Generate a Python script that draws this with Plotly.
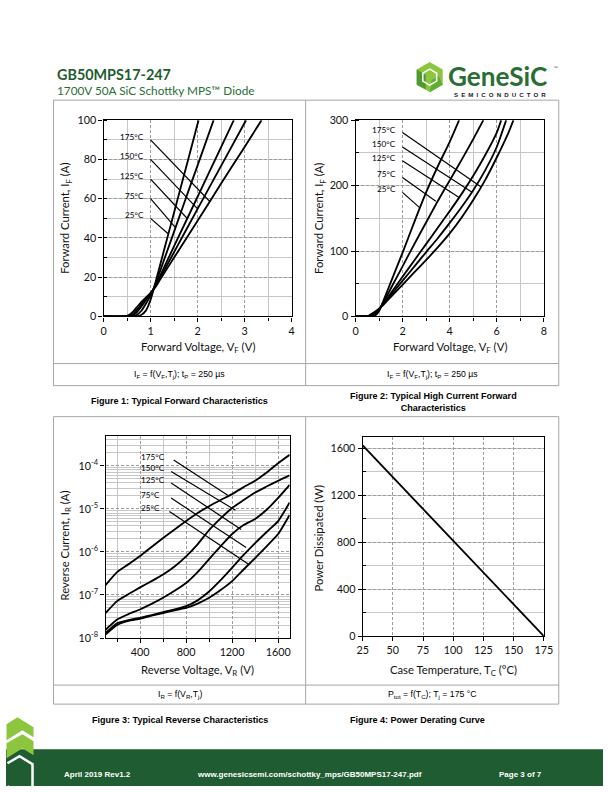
import math
import plotly.graph_objects as go

W, H = 612, 792
# measured picture transform of this page (picture = A * page + B); positions below
# are given in picture pixels and mapped back to page pixels
AX_, BX_ = 0.975, 6.5
AY_, BY_ = 0.982, 0.0
FS = 1.0 / AX_

# ---------------- data ----------------
temps = ["25°C", "75°C", "125°C", "150°C", "175°C"]

f1_v_25 = [0, 0.6, 0.7, 0.8, 0.9, 1.0, 1.1, 1.2, 1.4, 1.6, 1.8, 2.02]
f1_i_25 = [0, 0, 0.1, 0.8, 3.0, 8.5, 17, 26, 44, 62, 80, 100]
f1_v_75 = [0, 0.5, 0.6, 0.7, 0.8, 0.9, 1.0, 1.1, 1.2, 1.4, 1.6, 1.8, 2.0, 2.34]
f1_i_75 = [0, 0, 0.1, 0.7, 2.8, 6.5, 10.8, 16.4, 23, 36.5, 50, 63.6, 77, 100]
f1_v_125 = [0, 0.5, 0.6, 0.7, 0.8, 0.9, 1.0, 1.1, 1.2, 1.5, 2.0, 2.5, 2.77]
f1_i_125 = [0, 0, 0.4, 2.0, 5.0, 8.3, 11.5, 15.6, 20.6, 35.8, 61, 86.3, 100]
f1_v_150 = [0, 0.45, 0.55, 0.65, 0.75, 0.85, 1.0, 1.1, 1.2, 1.5, 2.0, 2.5, 3.03]
f1_i_150 = [0, 0, 0.3, 1.8, 4.5, 7.7, 11.8, 15.2, 19.6, 32.8, 54.8, 76.7, 100]
f1_v_175 = [0, 0.4, 0.5, 0.6, 0.7, 0.8, 0.9, 1.0, 1.1, 1.2, 1.5, 2.0, 2.5, 3.0, 3.36]
f1_i_175 = [0, 0, 0.3, 1.8, 4.5, 7.3, 9.6, 12.0, 14.9, 18.7, 30, 48.8, 67.7, 86.4, 100]
f1_lead_v0 = [1.0, 1.0, 1.0, 1.0, 1.0]
f1_lead_i0 = [50, 60, 70, 80, 90]
f1_lead_v1 = [1.38, 1.53, 1.78, 2.0, 2.26]
f1_lead_i1 = [42, 45.3, 49.9, 54.8, 58.6]

f2_v_25 = [0, 0.6, 0.8, 1.0, 1.2, 1.5, 2.0, 2.5, 3.0, 3.5, 4.0, 4.4]
f2_i_25 = [0, 0, 0.8, 8.5, 26, 53, 98, 145, 190, 230, 267, 300]
f2_v_75 = [0, 0.5, 0.7, 0.9, 1.0, 1.2, 1.6, 2.0, 2.5, 3.0, 3.5, 4.0, 4.5, 5.0, 5.43]
f2_i_75 = [0, 0, 0.7, 6.5, 10.8, 23, 50, 77, 111, 144, 177, 208, 239, 271, 300]
f2_v_125 = [0, 0.5, 0.6, 0.8, 1.0, 1.2, 1.5, 2.0, 2.5, 3.0, 3.5, 4.0, 4.5, 5.0, 5.5, 6.0, 6.19]
f2_i_125 = [0, 0, 0.4, 5, 11.5, 20.6, 35.8, 61, 86, 111, 136, 161, 187, 215, 246, 281, 300]
f2_v_150 = [0, 0.45, 0.55, 0.75, 1.0, 1.2, 1.5, 2.0, 2.5, 3.0, 3.5, 4.0, 4.5, 5.0, 5.5, 6.0, 6.4]
f2_i_150 = [0, 0, 0.3, 4.5, 11.8, 19.6, 32.8, 54.8, 76.7, 98.5, 120, 143, 167, 193, 223, 259, 300]
f2_v_175 = [0, 0.4, 0.5, 0.7, 1.0, 1.2, 1.5, 2.0, 2.5, 3.0, 3.5, 4.0, 4.5, 5.0, 5.5, 6.0, 6.5, 6.71]
f2_i_175 = [0, 0, 0.3, 4.5, 12, 18.7, 30, 48.8, 67.7, 86.4, 106, 127, 151, 178, 208, 243, 281, 300]
f2_lead_v0 = [1.99, 1.99, 1.99, 1.99, 1.99]
f2_lead_i0 = [189.6, 212.5, 238, 259, 281]
f2_lead_v1 = [2.73, 3.41, 4.40, 4.95, 5.34]
f2_lead_i1 = [166, 176, 182, 190, 198]

f3_vr = [100, 200, 300, 400, 500, 600, 700, 800, 900, 1000, 1100, 1200, 1300, 1400, 1500, 1600, 1700]
f3_ir_25 = [1.2e-8, 2.0e-8, 2.5e-8, 2.8e-8, 3.3e-8, 3.8e-8, 4.4e-8, 5.0e-8, 6.3e-8, 8.6e-8,
            1.3e-7, 2.1e-7, 3.9e-7, 7.2e-7, 1.35e-6, 2.6e-6, 7.2e-6]
f3_ir_75 = [1.3e-8, 2.2e-8, 2.6e-8, 2.95e-8, 3.4e-8, 4.0e-8, 4.6e-8, 5.5e-8, 7.5e-8, 1.2e-7,
            2.2e-7, 4.3e-7, 8.5e-7, 1.6e-6, 2.9e-6, 5.2e-6, 1.4e-5]
f3_ir_125 = [1.55e-8, 2.7e-8, 3.6e-8, 4.6e-8, 6.2e-8, 8.6e-8, 1.25e-7, 1.9e-7, 3.4e-7, 6.8e-7,
             1.35e-6, 2.6e-6, 4.2e-6, 5.8e-6, 9.5e-6, 1.8e-5, 3.6e-5]
f3_ir_150 = [3.8e-8, 7.2e-8, 1.05e-7, 1.5e-7, 2.1e-7, 3.0e-7, 4.6e-7, 7.9e-7, 1.5e-6, 3.2e-6,
             6.0e-6, 1.05e-5, 1.6e-5, 2.4e-5, 3.3e-5, 4.5e-5, 6.0e-5]
f3_ir_175 = [1.7e-7, 3.4e-7, 5.2e-7, 8.0e-7, 1.3e-6, 2.1e-6, 3.3e-6, 5.2e-6, 8.0e-6, 1.15e-5,
             1.6e-5, 2.2e-5, 3.2e-5, 4.5e-5, 7.0e-5, 1.15e-4, 1.8e-4]
f3_lead_v0 = [655, 670, 670, 670, 692]
f3_lead_i0 = [8.7e-6, 1.78e-5, 4.0e-5, 7.4e-5, 1.36e-4]
f3_lead_v1 = [1350, 1322, 1278, 1229, 1162]
f3_lead_i1 = [5.0e-7, 1.26e-6, 3.3e-6, 9.3e-6, 2.07e-5]
f3_tickvals = [1e-8, 1e-7, 1e-6, 1e-5, 1e-4]
f3_ticktext = ["10<sup>-8</sup>", "10<sup>-7</sup>", "10<sup>-6</sup>", "10<sup>-5</sup>", "10<sup>-4</sup>"]

f4_tc = [25, 175]
f4_p = [1625, 0]

# ---------------- helpers (picture px -> paper) ----------------
def px(x):
    return ((x - BX_) / AX_) / W


def py(y):
    return 1 - ((y - BY_) / AY_) / H


def fs(s):
    return round(s * FS, 2)


fig = go.Figure()


def curve(x, y, xa, ya, spline=True):
    line = dict(color="black", width=1.85)
    if spline:
        line.update(shape="spline", smoothing=0.5)
    fig.add_trace(go.Scatter(x=x, y=y, mode="lines", line=line, xaxis=xa, yaxis=ya,
                             showlegend=False, hoverinfo="skip"))


def leader(x0, y0, x1, y1, xa, ya):
    fig.add_trace(go.Scatter(x=[x0, x1], y=[y0, y1], mode="lines",
                             line=dict(color="black", width=1.2), xaxis=xa, yaxis=ya,
                             showlegend=False, hoverinfo="skip"))


annotations = []
shapes = []


def text(x, y, s, size, color="#000", family="Lato", xanchor="center", yanchor="middle",
         angle=0, weight="normal"):
    annotations.append(dict(x=px(x), y=py(y), xref="paper", yref="paper", text=s,
                            showarrow=False, xanchor=xanchor, yanchor=yanchor,
                            textangle=angle,
                            font=dict(family=family, size=fs(size), color=color, weight=weight)))


def line_px(x0, y0, x1, y1, color="#a6a6a6", width=1):
    shapes.append(dict(type="line", xref="paper", yref="paper", x0=px(x0), y0=py(y0),
                       x1=px(x1), y1=py(y1), line=dict(color=color, width=width)))


def poly_px(pts, fill, stroke=None, width=0, close=True):
    p = "M " + " L ".join(f"{px(a):.5f},{py(b):.5f}" for a, b in pts) + (" Z" if close else "")
    shapes.append(dict(type="path", xref="paper", yref="paper", path=p,
                       fillcolor=fill if fill else "rgba(0,0,0,0)",
                       line=dict(color=stroke or fill, width=width)))


TICKFONT = dict(family="Lato", size=fs(10.5), color="#111")
MAJ_GRID = "#9c9c9c"
MIN_GRID = "#c6c6c6"


def axis(domain, rng, dtick, mdtick, anchor, minor_ticks="outside", **kw):
    d = dict(domain=domain, range=rng, anchor=anchor, dtick=dtick, tick0=0,
             showline=True, linecolor="black", linewidth=1.3, mirror=True,
             ticks="outside", ticklen=4, tickwidth=1, tickcolor="black",
             showgrid=True, gridcolor=MAJ_GRID, gridwidth=1, griddash="3px,2px",
             zeroline=False, tickfont=TICKFONT, fixedrange=True,
             minor=dict(dtick=mdtick, showgrid=True, gridcolor=MIN_GRID, gridwidth=1,
                        griddash="solid", ticks=minor_ticks, ticklen=3, tickcolor="black"))
    d.update(kw)
    return d


LBL = dict(family="Lato", size=fs(8), color="#000")

# ---------------- traces ----------------
for v, i in [(f1_v_25, f1_i_25), (f1_v_75, f1_i_75), (f1_v_125, f1_i_125),
             (f1_v_150, f1_i_150), (f1_v_175, f1_i_175)]:
    curve(v, i, "x", "y")
for k in range(5):
    leader(f1_lead_v0[k], f1_lead_i0[k], f1_lead_v1[k], f1_lead_i1[k], "x", "y")
    annotations.append(dict(x=0.9, y=f1_lead_i0[k], xref="x", yref="y", text=temps[k],
                            showarrow=False, xanchor="right", yanchor="middle", yshift=3,
                            font=LBL))

for v, i in [(f2_v_25, f2_i_25), (f2_v_75, f2_i_75), (f2_v_125, f2_i_125),
             (f2_v_150, f2_i_150), (f2_v_175, f2_i_175)]:
    curve(v, i, "x2", "y2")
for k in range(5):
    leader(f2_lead_v0[k], f2_lead_i0[k], f2_lead_v1[k], f2_lead_i1[k], "x2", "y2")
    annotations.append(dict(x=1.78, y=f2_lead_i0[k], xref="x2", yref="y2", text=temps[k],
                            showarrow=False, xanchor="right", yanchor="middle", yshift=3,
                            font=LBL))

for ir in [f3_ir_25, f3_ir_75, f3_ir_125, f3_ir_150, f3_ir_175]:
    curve(f3_vr, ir, "x3", "y3")
for k in range(5):
    leader(f3_lead_v0[k], f3_lead_i0[k], f3_lead_v1[k], f3_lead_i1[k], "x3", "y3")
    annotations.append(dict(x=395, y=math.log10(f3_lead_i0[k]), xref="x3", yref="y3",
                            text=temps[k], showarrow=False, xanchor="left", yanchor="middle",
                            yshift=3, font=LBL))

curve(f4_tc, f4_p, "x4", "y4", spline=False)

# ---------------- axes ----------------
layout_axes = dict(
    xaxis=axis([px(104), px(292)], [0, 4], 1, 0.5, "y"),
    yaxis=axis([py(309), py(113)], [0, 100], 20, 10, "x", minor_ticks="inside"),
    xaxis2=axis([px(356), px(544)], [0, 8], 2, 1, "y2"),
    yaxis2=axis([py(309), py(113)], [0, 300], 100, 50, "x2", minor_ticks="inside"),
    xaxis3=axis([px(106), px(290)], [100, 1700], 400, 200, "y3", tick0=400),
    yaxis3=dict(domain=[py(630), py(428)], anchor="x3", type="log",
                range=[-8, math.log10(5e-4)], tickmode="array", tickvals=f3_tickvals,
                ticktext=f3_ticktext, showline=True, linecolor="black", linewidth=1.3,
                mirror=True, ticks="outside", ticklen=4, tickcolor="black",
                showgrid=True, gridcolor=MAJ_GRID, griddash="3px,2px", zeroline=False,
                tickfont=TICKFONT, fixedrange=True,
                minor=dict(tickmode="array",
                           tickvals=[m * 10 ** e for e in range(-8, -3) for m in range(2, 10)],
                           showgrid=True, gridcolor=MIN_GRID, griddash="solid", ticks="")),
    xaxis4=axis([px(363), px(544)], [25, 175], 25, 25, "y4", tick0=25),
    yaxis4=axis([py(628), py(429)], [0, 1700], 400, 200, "x4", minor_ticks="inside"),
)
layout_axes["xaxis4"]["minor"] = dict(showgrid=False, ticks="")

# ---------------- axis titles ----------------
AXT = dict(size=11, color="#111")
text(198, 340, "Forward Voltage, V<sub>F</sub> (V)", **AXT)
text(450, 340, "Forward Voltage, V<sub>F</sub> (V)", **AXT)
text(198, 662, "Reverse Voltage, V<sub>R</sub> (V)", **AXT)
text(454, 662, "Case Temperature, T<sub>C</sub> (°C)", **AXT)
text(66, 211, "Forward Current, I<sub>F</sub> (A)", angle=-90, **AXT)
text(320, 211, "Forward Current, I<sub>F</sub> (A)", angle=-90, **AXT)
text(66, 538, "Reverse Current, I<sub>R</sub> (A)", angle=-90, **AXT)
text(319, 530, "Power Dissipated (W)", angle=-90, **AXT)

# ---------------- tables ----------------
for (top, mid, bot) in [(93, 356, 378), (409, 677, 696)]:
    line_px(54, top, 559, top)
    line_px(54, mid, 559, mid)
    line_px(54, bot, 559, bot)
    line_px(54, top, 54, bot)
    line_px(559, top, 559, bot)
    line_px(306, top, 306, bot)

CAP = dict(family="Liberation Sans", size=8.5, color="#000")
text(180, 367, "I<sub>F</sub> = f(V<sub>F</sub>,T<sub>j</sub>); t<sub>P</sub> = 250 µs", **CAP)
text(433, 367, "I<sub>F</sub> = f(V<sub>F</sub>,T<sub>j</sub>); t<sub>P</sub> = 250 µs", **CAP)
text(180, 686, "I<sub>R</sub> = f(V<sub>R</sub>,T<sub>j</sub>)", **CAP)
text(433, 686, "P<sub>tot</sub> = f(T<sub>C</sub>); T<sub>j</sub> = 175 °C", **CAP)

FIG = dict(family="Liberation Sans", size=8.8, color="#000", weight="bold")
text(180, 393, "Figure 1: Typical Forward Characteristics", **FIG)
text(434, 394, "Figure 2: Typical High Current Forward<br>Characteristics", **FIG)
text(180, 712, "Figure 3: Typical Reverse Characteristics", **FIG)
text(418, 712, "Figure 4: Power Derating Curve", **FIG)

# ---------------- header ----------------
text(55, 67.5, "GB50MPS17-247", size=14, color="#1f5b30", xanchor="left", weight="bold")
text(55, 83.5, "1700V 50A SiC Schottky MPS™ Diode", size=11.5, color="#2a6e32", xanchor="left")

cx, cy, r = 430, 70, 15
hexpts = [(cx + r * math.cos(math.radians(a)), cy + r * math.sin(math.radians(a)))
          for a in (-90, -30, 30, 90, 150, 210)]
poly_px(hexpts, "#8cc63f")
poly_px([hexpts[4], hexpts[5], (cx - 4, cy - 2), (cx - 4, cy + 12)], "#4e9a2e")
poly_px([hexpts[2], hexpts[3], (cx + 2, cy + 3), (cx + 9, cy - 1)], "#5fae33")
inner = [(cx + 8 * math.cos(math.radians(a)), cy + 8 * math.sin(math.radians(a)))
         for a in (-90, -30, 30, 90, 150, 210)]
poly_px(inner, None, stroke="white", width=1.6)
text(446, 69, "GeneSiC", size=25.5, color="#2b6e33", xanchor="left", weight="bold",
     family="Lato")
text(552, 61, "™", size=5, color="#333", xanchor="left")
text(500, 87, "S\u2002E\u2002M\u2002I\u2002C\u2002O\u2002N\u2002D\u2002U\u2002C\u2002T\u2002O\u2002R",
     size=6, color="#222", weight="bold", family="Liberation Sans")

# ---------------- footer ----------------
shapes.append(dict(type="rect", xref="paper", yref="paper", x0=0, x1=1, y0=0, y1=py(741),
                   fillcolor="#1f5c31", line=dict(width=0), layer="below"))
poly_px([(7, 716), (18, 709), (34, 719), (34, 729), (23, 722), (7, 732)], "#8cc63f")
poly_px([(7, 735), (23, 726), (34, 733), (34, 747), (23, 740), (7, 750)], "#8cc63f")
poly_px([(8, 755), (20, 748), (33, 756), (33, 778), (20, 786), (8, 778)], None,
        stroke="white", width=2.5, close=False)

FT = dict(family="Liberation Sans", size=7.8, color="white", weight="bold", xanchor="left")
text(62, 766, "April 2019 Rev1.2", **FT)
text(195, 766, "www.genesicsemi.com/schottky_mps/GB50MPS17-247.pdf", **FT)
text(497, 766, "Page 3 of 7", **FT)

fig.update_layout(
    width=W, height=H, autosize=False,
    margin=dict(l=0, r=0, t=0, b=0),
    paper_bgcolor="white", plot_bgcolor="white",
    showlegend=False,
    annotations=annotations, shapes=shapes,
    **layout_axes,
)

fig.write_html("out.html", include_plotlyjs=True, config=dict(displayModeBar=False),
               post_script="document.body.style.margin='0';document.body.style.overflow='hidden';"
                           "document.documentElement.style.overflow='hidden';")
